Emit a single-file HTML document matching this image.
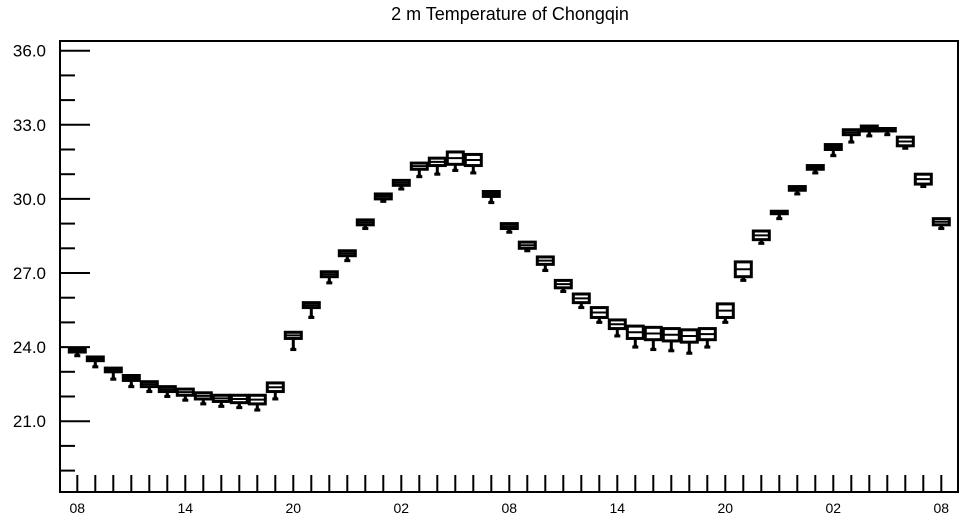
<!DOCTYPE html>
<html><head><meta charset="utf-8"><style>
body{margin:0;background:#fff;}
svg{display:block;font-family:"Liberation Sans",Arial,sans-serif;}
</style></head><body>
<svg id="chart" width="964" height="520">
<rect width="964" height="520" fill="#fff"/>
<text x="510" y="20" text-anchor="middle" font-size="18">2 m Temperature of Chongqin</text>
<g id="axes"></g>
<g id="boxes"></g>
</svg>
<script>
const hourLabels = ["08","14","20","02","08","14","20","02","08"];
const yTicks = [21.0,24.0,27.0,30.0,33.0,36.0];
const q3s = [23.95,23.6,23.15,22.85,22.6,22.4,22.3,22.15,22.05,22.05,22.05,22.55,24.6,25.8,27.05,27.9,29.15,30.2,30.75,31.45,31.65,31.9,31.8,30.3,29.0,28.25,27.65,26.7,26.15,25.6,25.1,24.85,24.8,24.75,24.7,24.75,25.75,27.45,28.7,29.5,30.5,31.35,32.2,32.8,32.95,32.85,32.5,31.0,29.2];
const q1s = [23.8,23.45,23.0,22.65,22.4,22.2,22.05,21.9,21.8,21.75,21.7,22.2,24.35,25.6,26.85,27.7,28.95,30.0,30.55,31.2,31.35,31.4,31.35,30.1,28.8,28.0,27.35,26.4,25.8,25.2,24.75,24.35,24.3,24.25,24.2,24.3,25.2,26.85,28.35,29.4,30.35,31.2,32.0,32.6,32.75,32.75,32.15,30.6,28.95];
const mins = [23.65,23.2,22.7,22.4,22.2,22.0,21.85,21.7,21.6,21.55,21.45,21.9,23.9,25.2,26.6,27.5,28.8,29.9,30.4,30.9,31.0,31.15,31.05,29.85,28.65,27.9,27.1,26.25,25.6,25.0,24.45,24.0,23.9,23.85,23.75,24.0,25.0,26.7,28.2,29.2,30.2,31.05,31.75,32.3,32.55,32.6,32.05,30.5,28.8];
const medians = q3s.map((v,i)=>(v+q1s[i])/2);

const NS="http://www.w3.org/2000/svg";
const L=60,R=958,T=41,B=492;
function y(v){return 50.7+(36-v)*24.7;}
function x(i){return 77.3+18*i;}
function mk(tag,attrs,parent){const e=document.createElementNS(NS,tag);for(const k in attrs)e.setAttribute(k,attrs[k]);parent.appendChild(e);return e;}
const axes=document.getElementById('axes');
const frame=mk('rect',{x:L,y:T,width:R-L,height:B-T,fill:'none',stroke:'#000','stroke-width':2},axes);


for(let v=19;v<=36;v++){
  const major=yTicks.includes(v);
  const t=mk('line',{x1:L,x2:L+(major?30:15),y1:y(v),y2:y(v),stroke:'#000','stroke-width':2},axes);
  
  
}
yTicks.forEach(v=>{
  const t=mk('text',{x:46,y:y(v)+6,'text-anchor':'end','font-size':17},axes);
  t.textContent=v.toFixed(1);
  
  
});
for(let i=0;i<q3s.length;i++){
  const t=mk('line',{x1:x(i),x2:x(i),y1:B,y2:B-17,stroke:'#000','stroke-width':2},axes);
  
  
}
hourLabels.forEach((s,k)=>{
  const t=mk('text',{x:x(k*6),y:513,'text-anchor':'middle','font-size':14},axes);
  t.textContent=s;
  
  
});
const boxes=document.getElementById('boxes');
for(let i=0;i<q3s.length;i++){
  const g=mk('g',{},boxes);
  
  
  const cx=x(i);
  mk('line',{x1:cx,x2:cx,y1:y(q1s[i]),y2:y(mins[i]),stroke:'#000','stroke-width':3},g);
  mk('line',{x1:cx-3,x2:cx+3,y1:y(mins[i]),y2:y(mins[i]),stroke:'#000','stroke-width':3},g);
  mk('circle',{cx:cx,cy:y(mins[i])-1,r:2,fill:'#000'},g);
  const h=Math.max(y(q1s[i])-y(q3s[i]),2);
  mk('rect',{x:cx-8,y:y(q3s[i]),width:16,height:h,fill:'#fff',stroke:'#000','stroke-width':3},g);
  mk('line',{x1:cx-8,x2:cx+8,y1:y(medians[i]),y2:y(medians[i]),stroke:'#000','stroke-width':2},g);
}
</script>
</body></html>
